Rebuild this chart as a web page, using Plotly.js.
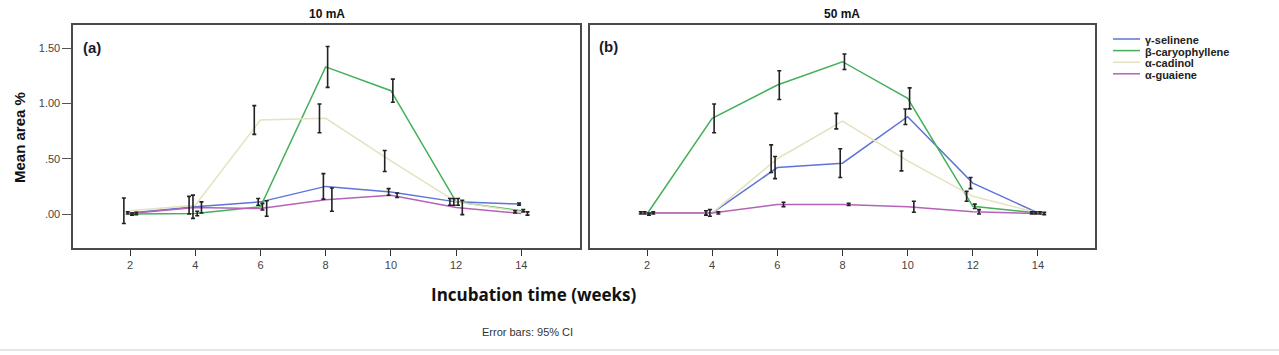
<!DOCTYPE html>
<html>
<head>
<meta charset="utf-8">
<script src="https://cdn.plot.ly/plotly-3.0.1.min.js"></script>
<style>
html,body{margin:0;padding:0;background:#fff;}
#chart{width:1279px;height:355px;}
</style>
</head>
<body>
<div id="chart"></div>
<script>
// ---- Data ----
const weeks = [2, 4, 6, 8, 10, 12, 14];
const seriesNames = ["γ-selinene", "β-caryophyllene", "α-cadinol", "α-guaiene"];
const panelTitles = ["10 mA", "50 mA"];
const panelLabels = ["(a)", "(b)"];
const yTickVals = [0, 0.5, 1.0, 1.5];
const yTickText = [".00", ".50", "1.00", "1.50"];

// 10 mA panel (a): means
const a_selinene = [0.01, 0.066, 0.11, 0.25, 0.20, 0.11, 0.09];
const a_caryoph  = [0.00, 0.005, 0.066, 1.33, 1.115, 0.11, 0.03];
const a_cadinol  = [0.03, 0.08, 0.85, 0.865, 0.48, 0.11, 0.02];
const a_guaiene  = [0.005, 0.06, 0.05, 0.13, 0.17, 0.06, 0.005];
// 10 mA panel (a): 95% CI half-widths
const a_selinene_ci = [0.01, 0.105, 0.03, 0.115, 0.03, 0.03, 0.01];
const a_caryoph_ci  = [0.01, 0.02, 0.03, 0.185, 0.105, 0.03, 0.01];
const a_cadinol_ci  = [0.115, 0.08, 0.13, 0.13, 0.095, 0.03, 0.01];
const a_guaiene_ci  = [0.01, 0.05, 0.07, 0.105, 0.02, 0.065, 0.015];

// 50 mA panel (b): means
const b_selinene = [0.01, 0.01, 0.42, 0.46, 0.88, 0.28, 0.01];
const b_caryoph  = [0.00, 0.865, 1.166, 1.377, 1.046, 0.07, 0.01];
const b_cadinol  = [0.01, 0.01, 0.50, 0.84, 0.48, 0.16, 0.01];
const b_guaiene  = [0.01, 0.01, 0.087, 0.087, 0.066, 0.02, 0.005];
// 50 mA panel (b): 95% CI half-widths
const b_selinene_ci = [0.01, 0.03, 0.10, 0.13, 0.07, 0.05, 0.01];
const b_caryoph_ci  = [0.01, 0.13, 0.13, 0.07, 0.095, 0.02, 0.01];
const b_cadinol_ci  = [0.01, 0.02, 0.125, 0.07, 0.09, 0.045, 0.01];
const b_guaiene_ci  = [0.01, 0.01, 0.02, 0.01, 0.05, 0.02, 0.01];

// ---- Styles ----
const colors = ["#5f73d8", "#43b05a", "#e4e2bf", "#b463b8"];
const ciOffset = [-0.07, 0.06, -0.19, 0.19]; // dodge of error bars per series
const W = 1279, H = 355;
const px = v => v / W;
const py = v => 1 - v / H;

const panels = [
  {xa: "x", ya: "y", means: [a_selinene, a_caryoph, a_cadinol, a_guaiene],
   ci: [a_selinene_ci, a_caryoph_ci, a_cadinol_ci, a_guaiene_ci]},
  {xa: "x2", ya: "y2", means: [b_selinene, b_caryoph, b_cadinol, b_guaiene],
   ci: [b_selinene_ci, b_caryoph_ci, b_cadinol_ci, b_guaiene_ci]}
];

const traces = [];
panels.forEach(p => {
  p.means.forEach((m, i) => {
    traces.push({
      x: weeks, y: m, xaxis: p.xa, yaxis: p.ya, type: "scatter", mode: "lines",
      line: {color: colors[i], width: 1.5}, name: seriesNames[i], showlegend: false,
      hoverinfo: "skip"
    });
  });
  p.means.forEach((m, i) => {
    traces.push({
      x: weeks.map(w => w + ciOffset[i]), y: m, xaxis: p.xa, yaxis: p.ya,
      type: "scatter", mode: "markers", marker: {size: 3, color: "#222", symbol: "line-ew", line:{width:0}},
      error_y: {type: "data", array: p.ci[i], visible: true, color: "#222", thickness: 1.6, width: 2},
      showlegend: false, hoverinfo: "skip"
    });
  });
});

const tickFont = {family: "Liberation Sans, Arial, sans-serif", size: 11, color: "#444"};
const frame = {showline: true, mirror: true, linecolor: "#4a4a4a", linewidth: 1.6, showgrid: false, zeroline: false};

const layout = {
  width: W, height: H,
  margin: {l: 0, r: 0, t: 0, b: 0},
  paper_bgcolor: "#fff", plot_bgcolor: "#fff",
  showlegend: false,
  xaxis: Object.assign({}, frame, {domain: [px(73), px(580)], range: [0.25, 15.8], tickvals: weeks,
    ticks: "outside", ticklen: 6, tickcolor: "#333", tickfont: tickFont, anchor: "y"}),
  yaxis: Object.assign({}, frame, {domain: [py(248), py(25)], range: [-0.307, 1.709],
    tickvals: yTickVals, ticktext: yTickText, ticks: "outside", ticklen: 9, tickcolor: "#555",
    tickfont: tickFont, anchor: "x", ticklabelstandoff: 0}),
  xaxis2: Object.assign({}, frame, {domain: [px(590), px(1095)], range: [0.25, 15.75], tickvals: weeks,
    ticks: "outside", ticklen: 6, tickcolor: "#333", tickfont: tickFont, anchor: "y2"}),
  yaxis2: Object.assign({}, frame, {domain: [py(248), py(25)], range: [-0.307, 1.709],
    tickvals: yTickVals, showticklabels: false, ticks: "", anchor: "x2"}),
  annotations: [],
  shapes: [
    {type: "line", xref: "paper", yref: "paper", x0: 0, x1: 1, y0: py(350), y1: py(350),
     line: {color: "#dcdcdc", width: 1.5}}
  ]
};

const titleFont = {family: "Liberation Sans, Arial, sans-serif", size: 12, color: "#111"};
[[327, 14], [842, 14]].forEach((pos, k) => {
  layout.annotations.push({text: "<b>" + panelTitles[k] + "</b>", xref: "paper", yref: "paper",
    x: px(pos[0]), y: py(pos[1]), showarrow: false, font: titleFont, xanchor: "center", yanchor: "middle"});
});
[[81, 47], [597, 46]].forEach((pos, k) => {
  layout.annotations.push({text: "<b>" + panelLabels[k] + "</b>", xref: "paper", yref: "paper",
    x: px(pos[0]), y: py(pos[1]), showarrow: false, xanchor: "left", yanchor: "middle",
    font: {family: "Liberation Sans, Arial, sans-serif", size: 15, color: "#1a1a2a"}});
});
layout.annotations.push({text: "<b>Mean area %</b>", xref: "paper", yref: "paper", x: px(20), y: py(138),
  textangle: -90, showarrow: false, xanchor: "center", yanchor: "middle",
  font: {family: "Liberation Sans, Arial, sans-serif", size: 15, color: "#111"}});
layout.annotations.push({text: "<b>Incubation time (weeks)</b>", xref: "paper", yref: "paper", x: px(534), y: py(294),
  showarrow: false, xanchor: "center", yanchor: "middle",
  font: {family: "Open Sans, Liberation Sans, sans-serif", size: 17, color: "#111"}});
layout.annotations.push({text: "Error bars: 95% CI", xref: "paper", yref: "paper", x: px(527), y: py(332),
  showarrow: false, xanchor: "center", yanchor: "middle",
  font: {family: "Liberation Sans, Arial, sans-serif", size: 11, color: "#333"}});

// Legend (drawn as annotations + short line shapes)
const legendY = [39, 50.6, 62.2, 73.8];
seriesNames.forEach((n, i) => {
  layout.shapes.push({type: "line", xref: "paper", yref: "paper", x0: px(1113), x1: px(1140),
    y0: py(legendY[i]), y1: py(legendY[i]), line: {color: colors[i], width: 1.5}});
  layout.annotations.push({text: "<b>" + n + "</b>", xref: "paper", yref: "paper", x: px(1143), y: py(legendY[i] + 1),
    showarrow: false, xanchor: "left", yanchor: "middle",
    font: {family: "Liberation Sans, Arial, sans-serif", size: 11, color: "#222"}});
});

Plotly.newPlot("chart", traces, layout, {staticPlot: true, displayModeBar: false});
</script>
</body>
</html>
